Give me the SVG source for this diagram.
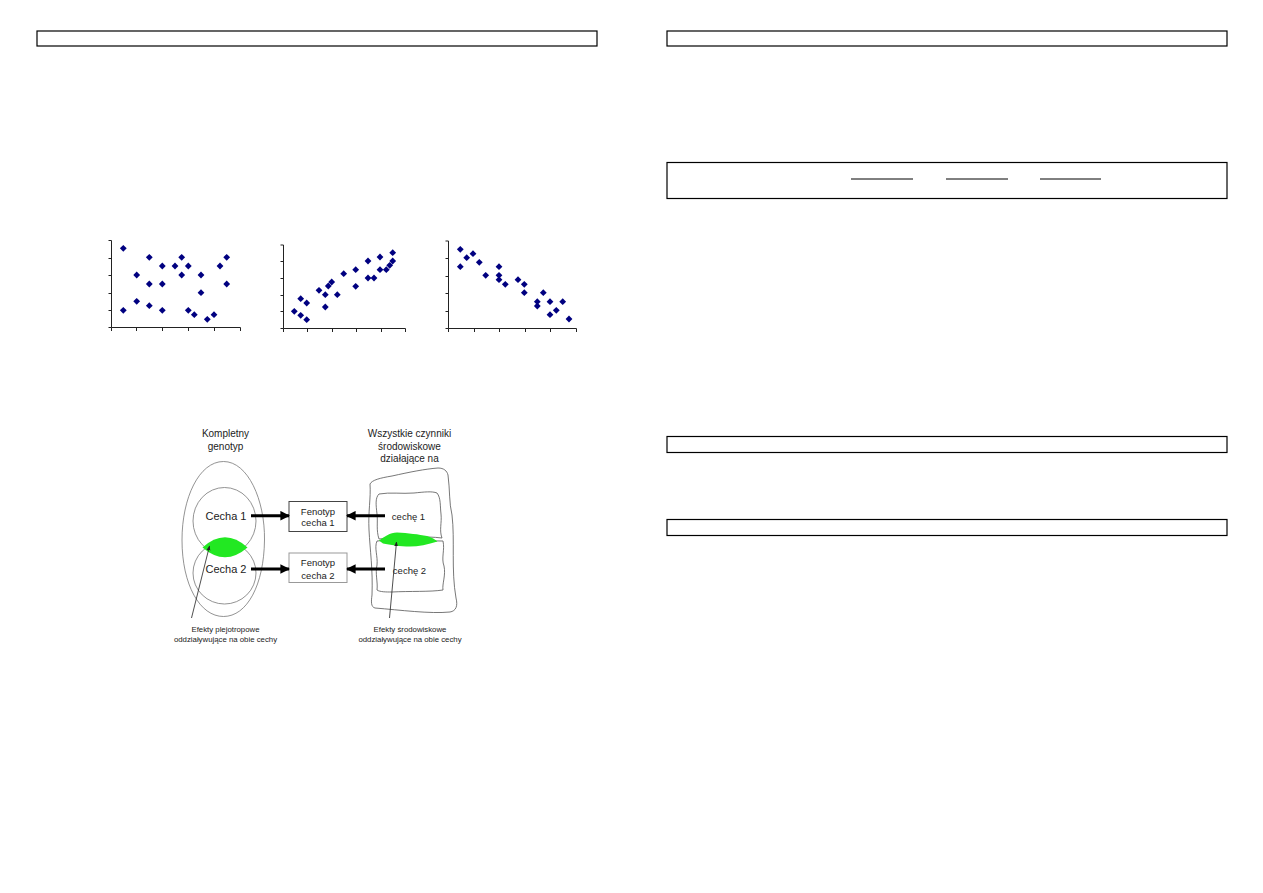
<svg xmlns="http://www.w3.org/2000/svg" xmlns:xlink="http://www.w3.org/1999/xlink" width="1263" height="893" viewBox="0 0 1263 893">
<style>
.frame{fill:none;stroke:#000;stroke-width:1.2}
.ax{fill:none;stroke:#222;stroke-width:1}
.thin{fill:none;stroke:#777;stroke-width:0.8}
.blob{fill:none;stroke:#555;stroke-width:0.8}
.t{font-family:"Liberation Sans",Arial,sans-serif;fill:#222;text-anchor:middle}
.big{font-size:11px}
.mid{font-size:10px}
.sm{font-size:9.5px}
.tiny{font-size:7.8px}
.arr{stroke:#000;stroke-width:3;fill:none}
.ptr{stroke:#222;stroke-width:0.8;fill:none}
.green{fill:#22e822;stroke:none}
</style>
<defs>
<path id="dm" d="M0,-3.4 L3.4,0 L0,3.4 L-3.4,0Z" fill="#000080"/>
<marker id="head" viewBox="0 0 10 10" refX="9" refY="5" markerWidth="3.2" markerHeight="3.2" orient="auto" markerUnits="strokeWidth">
<path d="M0,0 L10,5 L0,10Z" fill="#000"/>
</marker>
<marker id="sh" viewBox="0 0 10 10" refX="9" refY="5" markerWidth="6" markerHeight="6" orient="auto" markerUnits="strokeWidth">
<path d="M0,1 L10,5 L0,9Z" fill="#222"/>
</marker>
</defs>
<rect width="1263" height="893" fill="#fff"/>

<g id="frames">
<rect class="frame" x="37" y="31" width="560" height="15"/>
<rect class="frame" x="667" y="31" width="560" height="15"/>
<rect class="frame" x="667" y="162.5" width="560" height="36"/>
<line x1="851" y1="179" x2="913" y2="179" stroke="#000" stroke-width="1"/>
<line x1="946" y1="179" x2="1008" y2="179" stroke="#000" stroke-width="1"/>
<line x1="1040" y1="179" x2="1101" y2="179" stroke="#000" stroke-width="1"/>
<rect class="frame" x="667" y="436.5" width="560" height="16"/>
<rect class="frame" x="667" y="519.5" width="560" height="16"/>
</g>

<g id="plot1">
<path class="ax" d="M111.5,240.5V327.5H240.5 M108.5,240.5H111.5 M108.5,258.5H111.5 M108.5,275.5H111.5 M108.5,293.5H111.5 M108.5,310.5H111.5 M108.5,327.5H111.5 M111.5,327.5V331 M136.5,327.5V331 M162.5,327.5V331 M188.5,327.5V331 M214.5,327.5V331 M240.5,327.5V331"/>
<use href="#dm" x="123.3" y="248.3"/><use href="#dm" x="149.3" y="257.3"/><use href="#dm" x="181.7" y="257.3"/><use href="#dm" x="226.7" y="257.3"/>
<use href="#dm" x="162.3" y="266"/><use href="#dm" x="175" y="266"/><use href="#dm" x="188.3" y="266"/><use href="#dm" x="220" y="266"/>
<use href="#dm" x="136.7" y="275"/><use href="#dm" x="181.7" y="275"/><use href="#dm" x="201" y="275"/>
<use href="#dm" x="149.3" y="284"/><use href="#dm" x="162.3" y="284"/><use href="#dm" x="226.7" y="284"/>
<use href="#dm" x="201" y="292.7"/><use href="#dm" x="136.7" y="301.3"/><use href="#dm" x="149.3" y="305.7"/>
<use href="#dm" x="123.3" y="310.3"/><use href="#dm" x="162.3" y="310.3"/><use href="#dm" x="188.3" y="310.3"/>
<use href="#dm" x="194.3" y="314.7"/><use href="#dm" x="214" y="314.7"/><use href="#dm" x="207.3" y="319.3"/>
</g>

<g id="plot2">
<path class="ax" d="M283.5,245V328.5H405.5 M280.5,245H283.5 M280.5,261.5H283.5 M280.5,278.5H283.5 M280.5,295.5H283.5 M280.5,311.5H283.5 M280.5,328.5H283.5 M283.5,328.5V332 M307.5,328.5V332 M332.5,328.5V332 M356.5,328.5V332 M381.5,328.5V332 M405.5,328.5V332"/>
<use href="#dm" x="294.3" y="311.3"/><use href="#dm" x="300.7" y="315.3"/><use href="#dm" x="306.7" y="319.7"/><use href="#dm" x="300.7" y="298.7"/>
<use href="#dm" x="306.7" y="303"/><use href="#dm" x="319" y="290.3"/><use href="#dm" x="325.3" y="294.7"/><use href="#dm" x="325.3" y="307"/>
<use href="#dm" x="328.3" y="286"/><use href="#dm" x="331.7" y="282"/><use href="#dm" x="337.3" y="294.7"/><use href="#dm" x="343.7" y="273.7"/>
<use href="#dm" x="355.7" y="269.7"/><use href="#dm" x="355.7" y="286.3"/><use href="#dm" x="368" y="261"/><use href="#dm" x="368" y="278"/>
<use href="#dm" x="374" y="278"/><use href="#dm" x="380" y="257"/><use href="#dm" x="380" y="269.7"/><use href="#dm" x="386.3" y="269.7"/>
<use href="#dm" x="389.7" y="265.3"/><use href="#dm" x="392.7" y="261"/><use href="#dm" x="392.7" y="252.7"/>
</g>

<g id="plot3">
<path class="ax" d="M448.5,241V328.5H576.5 M445.5,241H448.5 M445.5,258.5H448.5 M445.5,276.5H448.5 M445.5,293.5H448.5 M445.5,311.5H448.5 M445.5,328.5H448.5 M448.5,328.5V332 M474.5,328.5V332 M499.5,328.5V332 M525.5,328.5V332 M550.5,328.5V332 M576.5,328.5V332"/>
<use href="#dm" x="460.3" y="249.3"/><use href="#dm" x="460.3" y="266.7"/><use href="#dm" x="466.7" y="257.7"/><use href="#dm" x="473" y="253.7"/>
<use href="#dm" x="479.3" y="262.3"/><use href="#dm" x="485.7" y="275.3"/><use href="#dm" x="499" y="266.7"/><use href="#dm" x="499" y="275.3"/>
<use href="#dm" x="499" y="279.7"/><use href="#dm" x="505.3" y="284.3"/><use href="#dm" x="518" y="279.7"/><use href="#dm" x="524.3" y="284.3"/>
<use href="#dm" x="524.3" y="292.7"/><use href="#dm" x="543.3" y="292.7"/><use href="#dm" x="537.3" y="301.7"/><use href="#dm" x="537.3" y="306"/>
<use href="#dm" x="550" y="301.7"/><use href="#dm" x="562.7" y="301.7"/><use href="#dm" x="556.3" y="310.3"/><use href="#dm" x="550" y="314.7"/>
<use href="#dm" x="569" y="319"/>
</g>

<g id="genotyp">
<text class="t mid" x="225.5" y="437">Kompletny</text>
<text class="t mid" x="225.5" y="450">genotyp</text>
<path class="thin" d="M223.5,461.5 C248,461.5 265,500 264.5,540 C264,585 247,616.5 223.5,616.5 C200,616.5 182,585 182,540 C182,498 199,461.5 223.5,461.5Z"/>
<ellipse class="thin" cx="224.5" cy="521" rx="31.5" ry="33.5"/>
<ellipse class="thin" cx="224.5" cy="573" rx="31.5" ry="31"/>
<path class="green" d="M202.5,547.5 Q225,527 247.5,547.5 Q225,567 202.5,547.5Z"/>
<text class="t big" x="226" y="520">Cecha 1</text>
<text class="t big" x="226" y="573">Cecha 2</text>
</g>

<g id="srodowisko">
<text class="t mid" x="409.5" y="437">Wszystkie czynniki</text>
<text class="t mid" x="409.5" y="450">środowiskowe</text>
<text class="t mid" x="409.5" y="461.5">działające na</text>
<path class="blob" d="M370,484 C372,480 380,478 392,476 C410,472 425,469 438,468 C444,468 447,471 448,475 C450,490 449,503 452,515 C455,540 451,570 456,598 C458,606 456,611 450,612 C430,614 400,610 375,608 C371,607 371,602 372,595 C373,570 370,550 369,530 C368,512 371,498 370,484Z"/>
<path class="blob" d="M379,494 C390,492 402,494 414,493 C424,492 432,491 437,493 C441,498 440,506 441,514 C442,523 439,530 442,538 C426,536 402,537 379,539 C376,530 378,522 377,514 C376,505 375,498 379,494Z"/>
<path class="blob" d="M377,541 C395,539 420,541 443,541 C445,550 441,558 444,566 C446,575 442,584 443,590 C430,592 410,591 392,592 C386,592 380,592 377,590 C378,582 375,574 377,565 C378,556 374,548 377,541Z"/>
<path class="green" d="M379,540.5 C384,537 390,532.5 397,532.5 C408,533 419,534.5 427,536 C432,537.5 435,539.5 437.5,541.5 C428,544.5 418,546.5 410,546.5 C400,546.5 390,545 383,543.5Z"/>
<text class="t sm" x="408.5" y="520">cechę 1</text>
<text class="t sm" x="409.5" y="574">cechę 2</text>
</g>

<g id="fenotyp1">
<rect x="289" y="501.5" width="58" height="30" fill="#fff" stroke="#444" stroke-width="1"/>
<text class="t sm" x="318" y="514.5">Fenotyp</text>
<text class="t sm" x="318" y="526">cecha 1</text>
</g>
<g id="fenotyp2">
<rect x="289" y="553" width="58" height="29.5" fill="#fff" stroke="#999" stroke-width="1"/>
<text class="t sm" x="318" y="565.5">Fenotyp</text>
<text class="t sm" x="318" y="578.5">cecha 2</text>
</g>

<g id="label-plejo">
<text class="t tiny" x="225.5" y="631.5">Efekty plejotropowe</text>
<text class="t tiny" x="225.5" y="642">oddziaływujące na obie cechy</text>
</g>
<g id="label-srod">
<text class="t tiny" x="410" y="631.5">Efekty środowiskowe</text>
<text class="t tiny" x="410" y="642">oddziaływujące na obie cechy</text>
</g>

<g id="connectors">
<line class="arr" x1="251" y1="515.7" x2="289" y2="515.7" marker-end="url(#head)"/>
<line class="arr" x1="251" y1="569" x2="289" y2="569" marker-end="url(#head)"/>
<line class="arr" x1="385" y1="515.7" x2="347" y2="515.7" marker-end="url(#head)"/>
<line class="arr" x1="385" y1="569" x2="347" y2="569" marker-end="url(#head)"/>
<line class="ptr" x1="191.5" y1="618" x2="209.5" y2="546" marker-end="url(#sh)"/>
<line class="ptr" x1="389.5" y1="618" x2="396.5" y2="542" marker-end="url(#sh)"/>
</g>
</svg>
